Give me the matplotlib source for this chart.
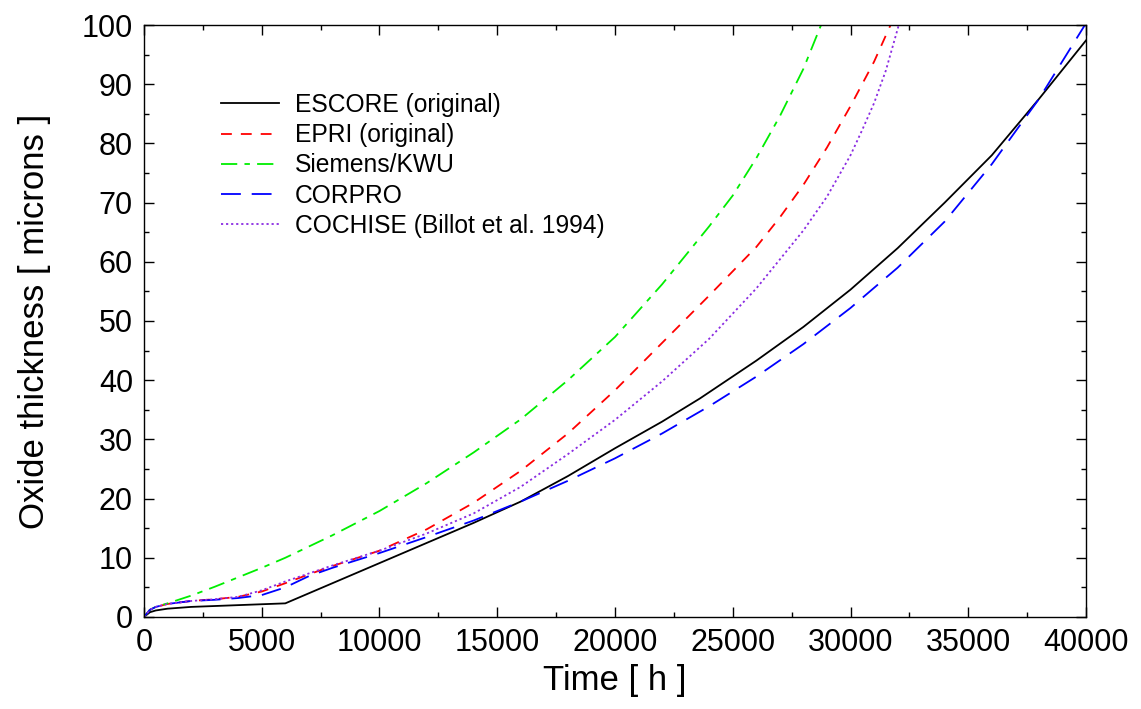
import numpy as np
import matplotlib
matplotlib.use('Agg')
import matplotlib.pyplot as plt
from matplotlib.ticker import MultipleLocator

plt.rcParams['font.family'] = ['Liberation Sans', 'DejaVu Sans']

# oxide thickness [microns] vs time [h]
escore_t = [0, 250, 500, 1000, 2000, 4000, 6000, 8000, 10000, 12000, 14000, 16000, 18000,
            20000, 22000, 23600, 26000, 28000, 30000, 32000, 34000, 36000, 38000, 40000]
escore_y = [0, 0.8, 1.1, 1.4, 1.7, 2.0, 2.3, 5.7, 9.1, 12.5, 15.9, 19.5, 23.8,
            28.5, 33.0, 36.9, 43.3, 49.0, 55.3, 62.3, 70.0, 78.0, 87.5, 97.4]

epri_t = [0, 250, 500, 1000, 2000, 3000, 4000, 5000, 6000, 7000, 8000, 10000, 12000, 14000,
          16000, 18000, 20000, 22000, 24000, 26000, 27000, 28000, 29000, 30000, 31000, 31700]
epri_y = [0, 1.2, 1.7, 2.2, 2.7, 3.0, 3.4, 4.3, 5.7, 7.2, 8.6, 11.2, 14.8, 19.3,
          24.7, 31.0, 38.3, 46.3, 54.3, 62.5, 67.5, 73.0, 79.3, 86.3, 93.8, 100]

kwu_t = [0, 250, 500, 1000, 2000, 3000, 4000, 5000, 6000, 8000, 10000, 12000, 14000,
         16000, 18000, 20000, 22000, 24000, 25000, 26000, 27000, 28000, 28750]
kwu_y = [0, 1.2, 1.7, 2.3, 3.6, 5.1, 6.7, 8.3, 10.0, 13.8, 17.9, 22.6, 27.8,
         33.4, 40.0, 47.3, 56.2, 66.0, 71.2, 77.5, 84.6, 92.6, 100]

corpro_t = [0, 250, 500, 1000, 2000, 3000, 4000, 5000, 6000, 7000, 8000, 10000, 12000, 14000,
            16000, 18000, 20000, 22000, 24000, 26000, 28000, 30000, 32000, 34000, 36000,
            38000, 40000]
corpro_y = [0, 1.2, 1.7, 2.2, 2.7, 2.9, 3.2, 3.7, 5.0, 6.9, 8.3, 10.8, 13.5, 16.3,
            19.5, 23.0, 26.8, 31.0, 35.6, 40.6, 46.1, 52.2, 59.0, 66.8, 76.5,
            87.5, 100.3]

cochise_t = [0, 250, 500, 1000, 2000, 3000, 4000, 5000, 6000, 8000, 10000, 12000, 14000,
             16000, 18000, 20000, 22000, 24000, 26000, 28000, 29000, 30000, 30500, 31000,
             31500, 32050]
cochise_y = [0, 1.2, 1.7, 2.2, 2.7, 3.0, 3.4, 4.5, 6.0, 8.7, 11.2, 14.1, 17.5,
             22.0, 27.5, 33.3, 39.8, 47.0, 55.5, 65.3, 71.0, 78.0, 82.3, 86.8,
             92.3, 100]

fig = plt.figure(figsize=(11.41, 7.09), dpi=100)
ax = fig.add_axes([0.1262, 0.1298, 0.8256, 0.8349])

lw = 1.3
ax.plot(escore_t, escore_y, color='black', lw=lw, label='ESCORE (original)')
ax.plot(epri_t, epri_y, color='#ff0000', lw=lw, dashes=(6, 5), label='EPRI (original)')
ax.plot(kwu_t, kwu_y, color='#00ee00', lw=lw, dashes=(9, 4, 3, 4), label='Siemens/KWU')
ax.plot(corpro_t, corpro_y, color='#0000ff', lw=lw, dashes=(11, 6), label='CORPRO')
ax.plot(cochise_t, cochise_y, color='#8a2be2', lw=lw, dashes=(1.2, 1.6),
        label='COCHISE (Billot et al. 1994)')

ax.set_xlim(0, 40000)
ax.set_ylim(0, 100)
ax.xaxis.set_major_locator(MultipleLocator(5000))
ax.xaxis.set_minor_locator(MultipleLocator(2500))
ax.yaxis.set_major_locator(MultipleLocator(10))
ax.yaxis.set_minor_locator(MultipleLocator(5))
ax.tick_params(which='both', direction='in', top=True, right=True, labelsize=22, width=1)
ax.tick_params(which='major', length=7, pad=8)
ax.tick_params(which='minor', length=3.5)
for s in ax.spines.values():
    s.set_linewidth(1)

ax.set_xlabel('Time [ h ]', fontsize=25, labelpad=4)
ax.set_ylabel('Oxide thickness [ microns ]', fontsize=25, labelpad=22)

ax.legend(loc='upper left', bbox_to_anchor=(0.082, 0.885), frameon=False, fontsize=17.7,
          handlelength=2.35, handletextpad=0.65, labelspacing=0.25, borderpad=0,
          borderaxespad=0)

fig.savefig('out.png', dpi=100)
